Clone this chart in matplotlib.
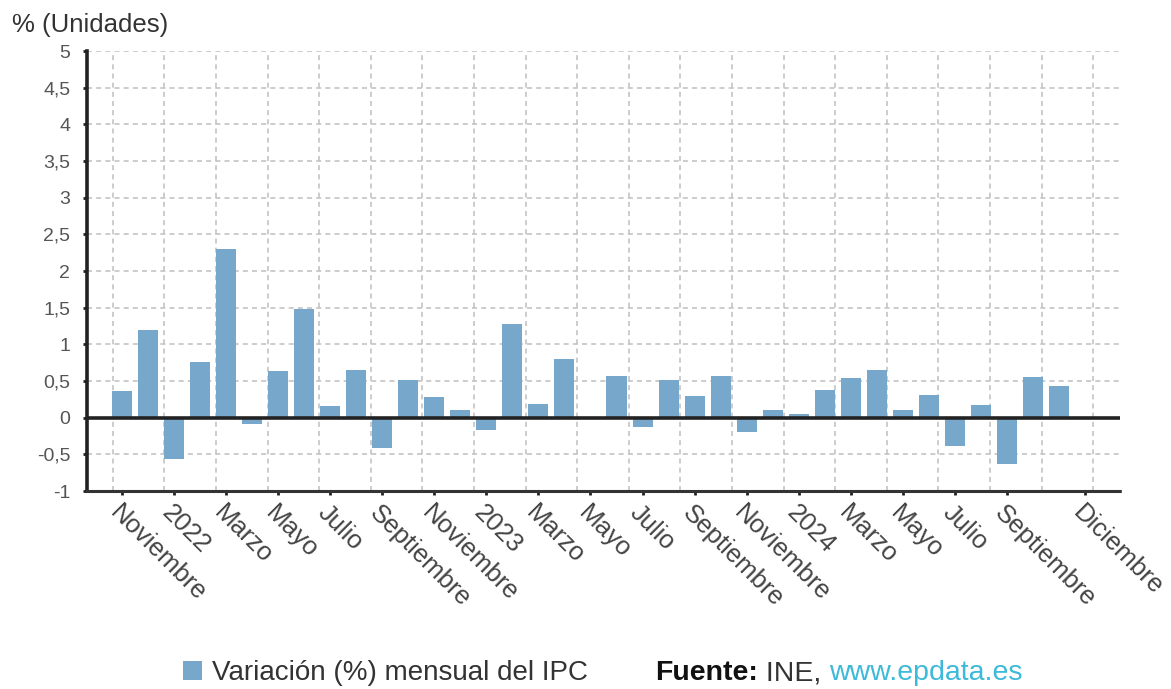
import matplotlib
matplotlib.use("Agg")
import matplotlib.pyplot as plt
import numpy as np

plt.rcParams['font.family'] = ['Liberation Sans', 'DejaVu Sans']

# variación mensual del IPC, nov 2021 - dic 2024 (dic 2024 sin dato)
meses = ['2021-11', '2021-12',
         '2022-01', '2022-02', '2022-03', '2022-04', '2022-05', '2022-06',
         '2022-07', '2022-08', '2022-09', '2022-10', '2022-11', '2022-12',
         '2023-01', '2023-02', '2023-03', '2023-04', '2023-05', '2023-06',
         '2023-07', '2023-08', '2023-09', '2023-10', '2023-11', '2023-12',
         '2024-01', '2024-02', '2024-03', '2024-04', '2024-05', '2024-06',
         '2024-07', '2024-08', '2024-09', '2024-10', '2024-11', '2024-12']
variacion = [0.37, 1.2,
             -0.57, 0.76, 2.3, -0.09, 0.63, 1.48,
             0.16, 0.65, -0.41, 0.52, 0.28, 0.1,
             -0.17, 1.28, 0.18, 0.8, 0.0, 0.57,
             -0.13, 0.52, 0.3, 0.57, -0.2, 0.1,
             0.05, 0.38, 0.54, 0.65, 0.1, 0.31,
             -0.39, 0.17, -0.63, 0.55, 0.43, np.nan]

tick_idx = [0, 2, 4, 6, 8, 10, 12, 14, 16, 18, 20, 22, 24, 26, 28, 30, 32, 34, 37]
tick_lab = ['Noviembre', '2022', 'Marzo', 'Mayo', 'Julio', 'Septiembre',
            'Noviembre', '2023', 'Marzo', 'Mayo', 'Julio', 'Septiembre',
            'Noviembre', '2024', 'Marzo', 'Mayo', 'Julio', 'Septiembre',
            'Diciembre']
yticks = np.arange(-1, 5.01, 0.5)

W, H = 1171, 689
fig = plt.figure(figsize=(W / 100, H / 100), dpi=100)
ax = fig.add_axes([87 / W, 1 - 491 / H, (1120 - 87) / W, 440 / H])

x = np.arange(len(meses))
bars = ax.bar(x, variacion, width=0.77, color='#77A8CB', zorder=2,
              label='Variación (%) mensual del IPC')

ax.set_xlim(-1.34, 38.34)
ax.set_ylim(-1, 5)

# rejilla
for yv in yticks[1:]:
    ax.axhline(yv, color='#c4c4c4', lw=1.2, ls=(0, (3, 2.5)), zorder=1)
for k in range(20):
    ax.axvline(-0.35 + 1.982 * k, color='#c4c4c4', lw=1.2, ls=(0, (3, 2.5)), zorder=1)
ax.axhline(0, color='#222222', lw=2.6, zorder=3)

ax.set_yticks(yticks)
ax.set_yticklabels([('%g' % v).replace('.', ',') for v in yticks])
ax.set_xticks(tick_idx)
ax.set_xticklabels(tick_lab)
ax.tick_params(axis='y', length=3, width=2, color='#222222', pad=9,
               labelsize=14, labelcolor='#555555')
ax.tick_params(axis='x', length=3, width=2, color='#222222', pad=4,
               labelsize=18.5, labelcolor='#444444')
plt.setp(ax.get_xticklabels(), rotation=-45, ha='left', va='top',
         rotation_mode='anchor')

for s in ['top', 'right']:
    ax.spines[s].set_visible(False)
ax.spines['left'].set_linewidth(2.6)
ax.spines['left'].set_color('#222222')
ax.spines['bottom'].set_linewidth(2.2)
ax.spines['bottom'].set_color('#333333')
ax.spines['bottom'].set_linestyle((0, (2, 1)))

fig.text(12 / W, 1 - 25 / H, '% (Unidades)', fontsize=18.5, color='#333333',
         va='center', ha='left')

fig.legend(handles=[bars], loc='center left', bbox_to_anchor=(183 / W, 1 - 673 / H),
           frameon=False, fontsize=20, handlelength=0.7, handleheight=0.7,
           handletextpad=0.35, borderpad=0, borderaxespad=0, labelcolor='#333333')

# fuente
r = fig.canvas.get_renderer()
yt = 1 - 673 / H
t1 = fig.text(655 / W, yt, 'Fuente:', fontsize=20.5, fontweight='bold',
              color='#111111', va='center', ha='left')
x1 = t1.get_window_extent(r).x1
t2 = fig.text(x1 / W, yt, ' INE, ', fontsize=20.5, color='#333333', va='center', ha='left')
x2 = t2.get_window_extent(r).x1
fig.text(x2 / W, yt, 'www.epdata.es', fontsize=20.5, color='#3DB9D9', va='center', ha='left')

fig.savefig('out.png', dpi=100, facecolor='white')
